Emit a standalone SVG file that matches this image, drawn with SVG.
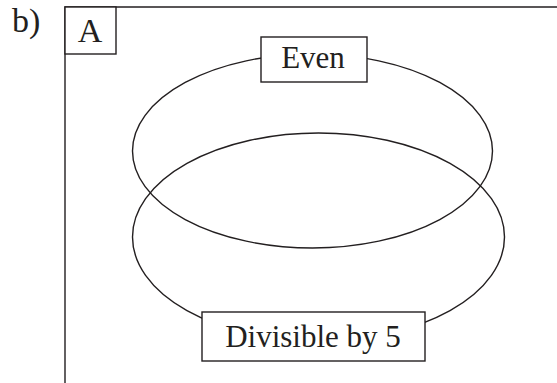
<svg xmlns="http://www.w3.org/2000/svg" width="557" height="383" viewBox="0 0 557 383">
<style>
.ln{fill:none;stroke:#231f20;stroke-width:1.4}
.bx{fill:#fff;stroke:#231f20;stroke-width:1.4}
.t{font-family:"Liberation Serif","Times New Roman",serif;fill:#231f20}
</style>
<rect width="557" height="383" fill="#fff"/>
<text class="t" x="12" y="32" font-size="34">b)</text>
<g id="universe">
<path class="ln" d="M65,383 V7 H557"/>
</g>
<g id="A">
<rect class="bx" x="65" y="7" width="51" height="47"/>
<text class="t" x="90" y="42" font-size="34" text-anchor="middle">A</text>
</g>
<g id="even-set">
<ellipse class="ln" cx="312.5" cy="151" rx="180" ry="97"/>
</g>
<g id="div5-set">
<ellipse class="ln" cx="318.5" cy="237" rx="186" ry="104"/>
</g>
<g id="even-label">
<rect class="bx" x="261" y="37" width="106" height="45"/>
<text class="t" x="313" y="68" font-size="31" text-anchor="middle">Even</text>
</g>
<g id="div5-label">
<rect class="bx" x="202" y="312" width="223" height="49"/>
<text class="t" x="313" y="347" font-size="31" text-anchor="middle">Divisible by 5</text>
</g>
<g id="connectors"></g>
</svg>
